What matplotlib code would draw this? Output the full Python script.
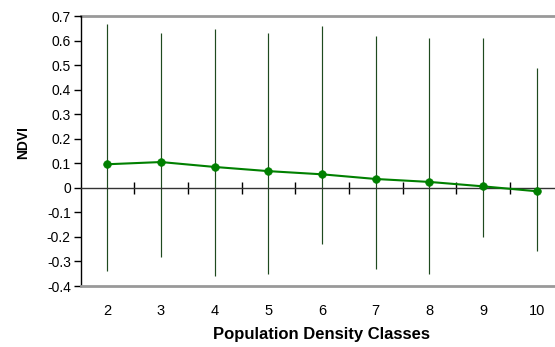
import matplotlib
matplotlib.use("Agg")
import matplotlib.pyplot as plt
import numpy as np
from matplotlib.ticker import FixedLocator, FuncFormatter

plt.rcParams['font.family'] = ['Liberation Sans', 'DejaVu Sans']
plt.rcParams['axes.unicode_minus'] = False

categories = [2, 3, 4, 5, 6, 7, 8, 9, 10]
mean_ndvi = [0.096, 0.105, 0.085, 0.068, 0.055, 0.036, 0.024, 0.006, -0.014]
upper_ndvi = [0.667, 0.629, 0.647, 0.629, 0.659, 0.618, 0.609, 0.609, 0.489]
lower_ndvi = [-0.338, -0.281, -0.359, -0.350, -0.229, -0.330, -0.350, -0.199, -0.259]
y_ticks = [0.7, 0.6, 0.5, 0.4, 0.3, 0.2, 0.1, 0, -0.1, -0.2, -0.3, -0.4]

fig = plt.figure(figsize=(5.55, 3.47), dpi=100)
ax = fig.add_axes([80.5/555, (347-286)/347, 1 - 80.5/555, (286-16)/347])

x = np.array(categories)
ax.vlines(x, lower_ndvi, upper_ndvi, color='#1f4a1f', lw=0.85, zorder=2)
ax.plot(x, mean_ndvi, color='#008000', lw=1.5, marker='o', ms=5.5, mew=0.5, zorder=3)

ax.set_xlim(1.5, 10.34)
ax.set_ylim(-0.4, 0.7)

# spines
ax.spines['right'].set_visible(False)
ax.spines['left'].set_color('black')
ax.spines['left'].set_linewidth(1.0)
ax.spines['bottom'].set_color('#999999')
ax.spines['bottom'].set_linewidth(2.0)
ax.spines['top'].set_position(('data', 0))
ax.spines['top'].set_color('#333333')
ax.spines['top'].set_linewidth(1.0)
ax.axhline(0.7, color='#999999', lw=2.0, clip_on=False, zorder=1)

ax.xaxis.set_major_locator(FixedLocator(categories))
ax.xaxis.set_minor_locator(FixedLocator(list(x[:-1] + 0.5)))
ax.tick_params(axis='x', which='major', bottom=True, top=False, length=0, pad=13,
               labelsize=10.5, labelcolor='black')
ax.tick_params(axis='x', which='minor', bottom=False, top=True, direction='inout',
               length=9, width=1, color='black')

ax.yaxis.set_major_locator(FixedLocator(y_ticks))
ax.yaxis.set_major_formatter(FuncFormatter(lambda v, p: f"{v:g}"))
ax.tick_params(axis='y', which='major', direction='out', length=5, width=1,
               labelsize=10, pad=2)

ax.set_xlabel('Population Density Classes', fontsize=12, fontweight='bold')
ax.xaxis.set_label_coords(0.5 + (321.5 - 317.75) / 474.5, -(327 - 286) / 270)
ax.set_ylabel('NDVI', fontsize=10, fontweight='bold')
ax.yaxis.set_label_coords(-(80.5 - 30) / 474.5, (286 - 143) / 270)

fig.savefig('out.png', dpi=100)
